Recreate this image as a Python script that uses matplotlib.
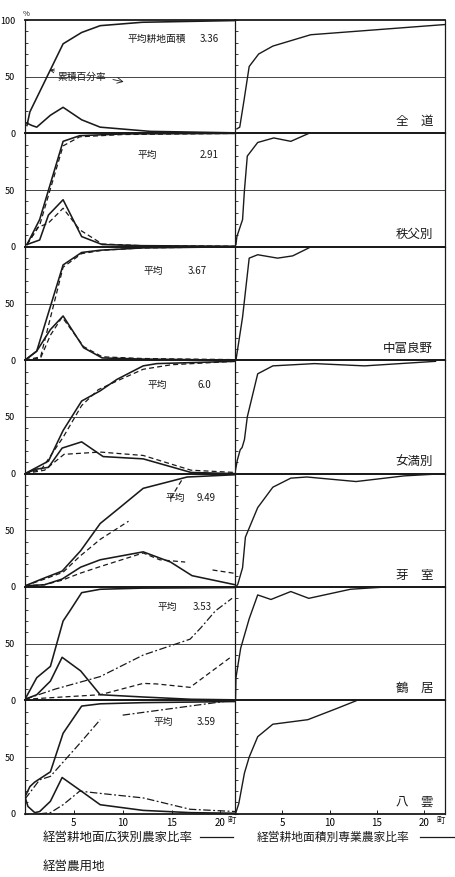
import matplotlib

matplotlib.use("Agg")

import numpy as np
import matplotlib.pyplot as plt
from matplotlib.lines import Line2D

plt.rcParams["font.family"] = ["Noto Sans CJK JP", "DejaVu Sans"]

nan = np.nan

# region names and average cultivated area (町)
regions = ["全　道", "秩父別", "中富良野", "女満別", "芽　室", "鶴　居", "八　雲"]
avg_values = ["3.36", "2.91", "3.67", "6.0", "9.49", "3.53", "3.59"]

# --- 全道
l1_cum_x = [0.2, 0.5, 3.9, 5.8, 7.7, 12, 21.5]
l1_cum_y = [7, 19, 79, 89, 95, 98, 99.5]
l1_frq_x = [0.2, 0.7, 1.2, 2.6, 3.9, 5.8, 7.7, 12.8, 21.5]
l1_frq_y = [9, 7, 5.5, 16, 23, 12, 5.5, 1.8, 0.5]
r1_x = [0.2, 0.5, 0.95, 1.5, 2.5, 4.0, 8.0, 22.2]
r1_y = [4, 5.5, 29, 59, 70, 77, 87, 96]

# --- 秩父別
l2_cum_x = [0.2, 1.5, 3.9, 5.6, 10, 21.5]
l2_cum_y = [2, 24, 93, 98, 99.5, 100]
l2_cumd_x = [0.2, 1.5, 3.9, 5.6, 10, 21.5]
l2_cumd_y = [2, 19, 89, 97, 99, 100]
l2_frq_x = [0.2, 1.5, 2.4, 3.9, 5.8, 7.9, 12, 21.5]
l2_frq_y = [2, 6, 28, 41.5, 9, 2, 1, 0.5]
l2_frqd_x = [0.2, 1.3, 2.4, 3.9, 5.6, 7.9, 12, 21.5]
l2_frqd_y = [2, 17, 21, 34, 15, 2.5, 1, 0.5]
r2_x = [0.1, 0.2, 0.8, 1.0, 1.3, 2.4, 4.1, 5.9, 7.8]
r2_y = [2, 9, 24, 50, 80, 92, 96, 93, 100]

# --- 中富良野
l3_cum_x = [0, 1.2, 3.9, 5.8, 7.7, 12, 21.5]
l3_cum_y = [0, 8, 84, 95, 97, 99, 100]
l3_cumd_x = [0, 1.6, 3.9, 5.8, 8, 12, 21.5]
l3_cumd_y = [0, 3, 82, 94, 97, 99, 100]
l3_frq_x = [0, 1.2, 2.6, 3.9, 6.0, 7.9, 12, 21.5]
l3_frq_y = [0, 8, 27, 39, 11, 2, 1, 0]
l3_frqd_x = [0, 1.6, 2.6, 3.8, 6.0, 7.9, 12, 21.5]
l3_frqd_y = [0, 2, 22, 38, 12, 3, 1.5, 0.5]
r3_x = [0.1, 0.8, 1.5, 2.4, 4.5, 6.1, 7.8]
r3_y = [0, 38, 90, 93, 90, 92, 99]

# --- 女満別
l4_cum_x = [0, 1.2, 2.4, 3.9, 5.8, 7.7, 9.4, 12.1, 13.5, 21.5]
l4_cum_y = [0, 5.5, 11, 38, 64, 73, 83, 95, 97, 99]
l4_cumd_x = [0, 1.7, 3.9, 5.8, 7.5, 9.5, 12.1, 15, 21.5]
l4_cumd_y = [0, 4, 32, 60, 74, 82, 92, 96, 99]
l4_frq_x = [0, 1.2, 2.4, 3.8, 5.8, 8.0, 12.1, 17.0, 21.5]
l4_frq_y = [0, 4, 5.5, 22.5, 28, 15, 13, 1, 0]
l4_frqd_x = [0, 2.0, 4.0, 7.7, 12.1, 17.0, 21.5]
l4_frqd_y = [0, 3, 17, 19, 16, 3, 1]
r4_x = [0.05, 0.25, 0.55, 0.75, 1.0, 1.3, 2.4, 4.0, 8.4, 13.7, 21.2]
r4_y = [3, 12, 21, 23, 30, 50, 88, 95, 97, 95, 99]

# --- 芽室
l5_cum_x = [0, 2.0, 3.8, 5.7, 7.7, 9.7, 12.1, 16.6, 21.5]
l5_cum_y = [1, 8, 14, 32, 56, 70, 87, 97, 99]
l5_cumd_x = [0, 2.0, 3.9, 5.6, 7.7, 10.6, nan, 14.9, 16.1]
l5_cumd_y = [1, 7, 13, 27, 42, 58, nan, 78, 95]
l5_frq_x = [0, 2.0, 3.8, 5.7, 7.7, 12.1, 14.9, 17.1, 21.5]
l5_frq_y = [1, 2, 7, 17.5, 24, 31, 22, 10, 2]
l5_frqd_x = [0, 2.0, 3.8, 5.6, 7.7, 12.1, 13.8, 16.4, nan, 19.2, 21.5]
l5_frqd_y = [1, 2, 6, 12, 18, 30, 24, 22, nan, 15, 12]
r5_x = [0.1, 0.3, 0.8, 1.1, 2.4, 4.0, 5.9, 7.6, 12.8, 17.9, 22.2]
r5_y = [0, 2.5, 17, 44, 70, 88, 96, 97, 93, 98, 100]

# --- 鶴居
l6_cum_x = [0, 1.2, 2.6, 3.9, 4.6, 5.8, 7.7, 12, 21.5]
l6_cum_y = [1, 20, 30, 70, 79, 95, 98, 99, 99.5]
l6_frq_x = [0, 1.2, 2.6, 3.8, 5.7, 7.7, 12.1, 17, 21.5]
l6_frq_y = [1, 5, 17, 38, 26, 5, 3, 1, 0.5]
l6_da_x = [0, 3.1, 7.7, 12.1, 16.9, 18, 19.5, 21.2]
l6_da_y = [1, 10, 21, 40, 54, 64, 79, 90]
l6_db_x = [0, 7.7, 12.1, 13.5, 16.9, 21.2]
l6_db_y = [1, 5, 15, 14.5, 11.5, 39]
r6_x = [0.05, 0.1, 0.6, 1.5, 2.4, 3.8, 5.9, 7.8, 12.2, 14, 16]
r6_y = [0, 20, 46, 72, 93, 89, 96, 90, 98, 99, 100]

# --- 八雲
l7_cum_x = [0, 0.5, 1.0, 2.6, 3.9, 5.8, 7.7, 12, 21.5]
l7_cum_y = [15, 24, 28, 37, 71, 95, 97, 98, 99]
l7_frq_x = [0, 0.3, 1.0, 1.5, 2.6, 3.8, 5.6, 7.7, 12.1, 17, 21.5]
l7_frq_y = [15, 6.5, 1, 2, 11, 32, 21, 8, 3, 1, 0.5]
l7_cumd_x = [0, 1.5, 2.6, 5.6, 7.7, nan, 10, 21.2]
l7_cumd_y = [13, 30, 33, 62, 83, nan, 87, 100]
l7_frqd_x = [1.5, 2.6, 3.9, 5.6, 7.7, 12.1, 16.9, 21.5]
l7_frqd_y = [0, 1, 8, 20, 18, 14, 4, 2]
r7_x = [0.05, 0.4, 1.0, 1.5, 2.4, 4.0, 7.7, 10.8, 12.9]
r7_y = [0, 9, 36, 50, 68, 79, 83, 93, 100]

left_series = [
    [(l1_cum_x, l1_cum_y, "s"), (l1_frq_x, l1_frq_y, "s")],
    [(l2_cum_x, l2_cum_y, "s"), (l2_cumd_x, l2_cumd_y, "d"),
     (l2_frq_x, l2_frq_y, "s"), (l2_frqd_x, l2_frqd_y, "d")],
    [(l3_cum_x, l3_cum_y, "s"), (l3_cumd_x, l3_cumd_y, "d"),
     (l3_frq_x, l3_frq_y, "s"), (l3_frqd_x, l3_frqd_y, "d")],
    [(l4_cum_x, l4_cum_y, "s"), (l4_cumd_x, l4_cumd_y, "d"),
     (l4_frq_x, l4_frq_y, "s"), (l4_frqd_x, l4_frqd_y, "d")],
    [(l5_cum_x, l5_cum_y, "s"), (l5_cumd_x, l5_cumd_y, "d"),
     (l5_frq_x, l5_frq_y, "s"), (l5_frqd_x, l5_frqd_y, "d")],
    [(l6_cum_x, l6_cum_y, "s"), (l6_frq_x, l6_frq_y, "s"),
     (l6_da_x, l6_da_y, "dd"), (l6_db_x, l6_db_y, "d")],
    [(l7_cum_x, l7_cum_y, "s"), (l7_frq_x, l7_frq_y, "s"),
     (l7_cumd_x, l7_cumd_y, "dd"), (l7_frqd_x, l7_frqd_y, "dd")],
]
right_series = [(r1_x, r1_y), (r2_x, r2_y), (r3_x, r3_y), (r4_x, r4_y),
                (r5_x, r5_y), (r6_x, r6_y), (r7_x, r7_y)]

styles = {"s": "-", "d": (0, (4, 2.5)), "dd": (0, (6, 2, 1.5, 2))}
ink = "#1a1a1a"

W, H = 455, 877
fig = plt.figure(figsize=(W / 100, H / 100), dpi=100)
fig.patch.set_facecolor("white")


def add_ax(x0, x1, top, h):
    return fig.add_axes([x0 / W, 1 - (top + h) / H, (x1 - x0) / W, h / H])


def ftext(x, y, s, **kw):
    fig.text(x / W, 1 - y / H, s, **kw)


row_top = 20
row_h = 113.4
avg_pos = [(127, 39), (138, 155), (143, 271), (148, 385), (165, 498), (157, 607), (153, 722)]
num_pos = [(200, 39), (200, 155), (188, 271), (197, 385), (197, 498), (193, 607), (197, 722)]

for i in range(7):
    top = row_top + i * row_h
    axl = add_ax(25, 235, top, row_h)
    axr = add_ax(235, 445, top, row_h)
    axl.set_xlim(0, 21.5)
    axr.set_xlim(0, 22.2)
    for ax in (axl, axr):
        ax.set_ylim(0, 100)
        ax.set_facecolor("none")
        ax.axhline(50, color="#444444", lw=0.7)
        for sp in ax.spines.values():
            sp.set_color(ink)
            sp.set_linewidth(0.9)
        ax.spines["top"].set_linewidth(1.3)
        ax.spines["bottom"].set_linewidth(1.3)
        ax.set_yticks(np.arange(0, 101, 10))
        ax.tick_params(axis="y", direction="in", length=2.5, width=0.6, color=ink)
        ax.set_xticks([5, 10, 15, 20])
        ax.tick_params(axis="x", direction="in", length=3, width=0.7, color=ink,
                       labelsize=7, pad=3)
        if i < 6:
            ax.tick_params(axis="x", length=0, labelbottom=False)
    axl.spines["right"].set_visible(False)
    axr.set_yticklabels([])

    ylabels = ["" for _ in range(11)]
    ylabels[0] = "0"
    ylabels[5] = "50"
    if i == 0:
        ylabels[10] = "100"
    axl.set_yticklabels(ylabels)
    axl.tick_params(axis="y", labelsize=6.5, pad=7)

    for xs, ys, st in left_series[i]:
        lw = 1.15 if st == "s" else 0.9
        axl.plot(xs, ys, color=ink, lw=lw, linestyle=styles[st])
    rx, ry = right_series[i]
    axr.plot(rx, ry, color=ink, lw=1.0)

    # region name, bottom right of right panel
    ftext(433, top + row_h - 12, regions[i], fontsize=9, ha="right", va="center", color=ink)

    # average area text
    ax_, ay_ = avg_pos[i]
    head = "平均耕地面積" if i == 0 else "平均"
    ftext(ax_, ay_, head, fontsize=7, ha="left", va="center", color=ink)
    nx, ny = num_pos[i]
    ftext(nx, ny, avg_values[i], fontsize=7, ha="left", va="center", color=ink)

    if i == 0:
        axl.annotate("累積百分率", xy=(2.5, 56), xytext=(3.3, 50),
                     fontsize=7, va="center", color=ink,
                     arrowprops=dict(arrowstyle="->", lw=0.6, color=ink,
                                     shrinkA=0, shrinkB=0))
        axl.annotate("", xy=(10.1, 45.5), xytext=(9.0, 47.5),
                     arrowprops=dict(arrowstyle="->", lw=0.6, color=ink,
                                     shrinkA=0, shrinkB=0))
    if i == 6:
        axl.set_xticklabels(["5", "10", "15", "20"])
        axr.set_xticklabels(["5", "10", "15", "20"])

# "%" after 100 and the 町 unit marks
ftext(23, 14, "%", fontsize=5.5, ha="left", va="center", color=ink)
ftext(227, 820, "町", fontsize=6, ha="left", va="center", color=ink)
ftext(436, 820, "町", fontsize=6, ha="left", va="center", color=ink)

# axis captions
ftext(43, 837, "経営耕地面広狭別農家比率", fontsize=9, ha="left", va="center", color=ink)
fig.add_artist(Line2D([200 / W, 233 / W], [1 - 837 / H, 1 - 837 / H], color=ink, lw=0.9))
ftext(257, 837, "経営耕地面積別専業農家比率", fontsize=8.5, ha="left", va="center", color=ink)
fig.add_artist(Line2D([420 / W, 455 / W], [1 - 837 / H, 1 - 837 / H], color=ink, lw=0.9))
ftext(43, 866, "経営農用地", fontsize=9, ha="left", va="center", color=ink)

fig.savefig("out.png", dpi=100, facecolor="white")
